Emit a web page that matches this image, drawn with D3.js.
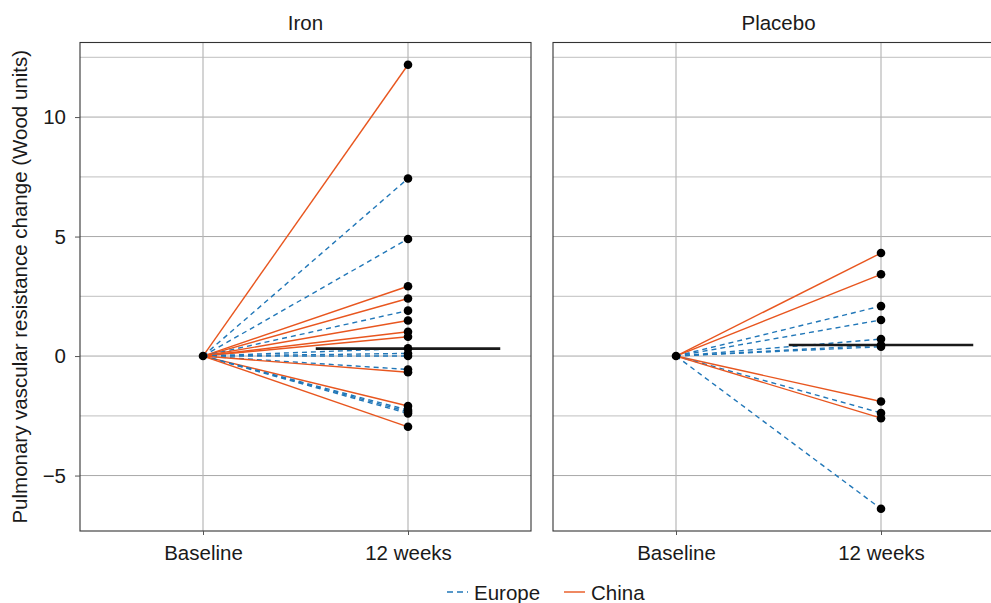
<!DOCTYPE html>
<html>
<head>
<meta charset="utf-8">
<script src="https://cdn.jsdelivr.net/npm/d3@7"></script>
<style>
  body { margin: 0; background: #fff; }
  svg { font-family: "Liberation Sans", Arial, sans-serif; }
</style>
</head>
<body>
<svg id="chart" width="991" height="603"></svg>
<script>
// data
var groups = ["Iron", "Placebo"];
var timepoints = ["Baseline", "12 weeks"];
var regions = ["Europe", "China"];

var ironChange = [12.19, 7.43, 4.9, 2.92, 2.41, 1.9, 1.49, 1.02, 0.81, 0.32, 0.11, 0, -0.56, -0.68, -2.09, -2.26, -2.33, -2.4, -2.96];
var ironRegion = ["China", "Europe", "Europe", "China", "China", "Europe", "China", "China", "China", "Europe", "Europe", "Europe", "Europe", "China", "China", "Europe", "Europe", "Europe", "China"];

var placeboChange = [4.31, 3.42, 2.09, 1.51, 0.71, 0.46, 0.39, -1.9, -2.38, -2.6, -6.39];
var placeboRegion = ["China", "China", "Europe", "Europe", "Europe", "Europe", "Europe", "China", "Europe", "China", "Europe"];

var medianChange = [0.31, 0.46];

var yTicks = [-5, 0, 5, 10];
var gridTicks = [-5, -2.5, 0, 2.5, 5, 7.5, 10, 12.5];

var regionColor = d3.scaleOrdinal().domain(regions).range(["#2177b8", "#e8561f"]);
var regionDash = d3.scaleOrdinal().domain(regions).range(["5,4", null]);

var svg = d3.select("#chart");
var fontSize = 20.5;

var panelW = 451, panelTop = 42.5, panelBottom = 531;
var panelLeft = [80, 553];

var y = d3.scaleLinear()
  .domain([-7.32, 13.12])
  .range([panelBottom, panelTop]);

var x = d3.scalePoint()
  .domain(timepoints)
  .range([0, panelW])
  .padding(0.6);

function rows(values, regs){
  return values.map(function(v, i){ return {value: v, region: regs[i]}; });
}

var panelData = [rows(ironChange, ironRegion), rows(placeboChange, placeboRegion)];

var line = d3.line()
  .x(function(d){ return x(d[0]); })
  .y(function(d){ return y(d[1]); });

groups.forEach(function(name, gi){
  var g = svg.append("g")
    .attr("transform", "translate(" + panelLeft[gi] + ",0)");

  // horizontal grid
  g.append("g")
    .selectAll("line")
    .data(gridTicks)
    .join("line")
    .attr("x1", 0).attr("x2", panelW)
    .attr("y1", function(d){ return y(d); })
    .attr("y2", function(d){ return y(d); })
    .attr("stroke", function(d){ return d % 5 === 0 ? "#a8a8a8" : "#cccccc"; })
    .attr("stroke-width", function(d){ return d % 5 === 0 ? 1 : 1.3; });

  // vertical grid
  g.append("g")
    .selectAll("line")
    .data(timepoints)
    .join("line")
    .attr("x1", function(d){ return x(d); })
    .attr("x2", function(d){ return x(d); })
    .attr("y1", panelTop).attr("y2", panelBottom)
    .attr("stroke", "#b8b8b8")
    .attr("stroke-width", 1.2);

  // spaghetti lines
  g.append("g")
    .selectAll("path")
    .data(panelData[gi])
    .join("path")
    .attr("d", function(d){ return line([[timepoints[0], 0], [timepoints[1], d.value]]); })
    .attr("fill", "none")
    .attr("stroke", function(d){ return regionColor(d.region); })
    .attr("stroke-width", 1.4)
    .attr("stroke-dasharray", function(d){ return regionDash(d.region); });

  // median bar
  var step = x.step();
  g.append("line")
    .attr("x1", x(timepoints[1]) - step * 0.45)
    .attr("x2", x(timepoints[1]) + step * 0.45)
    .attr("y1", y(medianChange[gi]))
    .attr("y2", y(medianChange[gi]))
    .attr("stroke", "#1a1a1a")
    .attr("stroke-width", 2.6);

  // points
  g.append("circle")
    .attr("cx", x(timepoints[0]))
    .attr("cy", y(0))
    .attr("r", 4.3)
    .attr("fill", "#000");

  g.append("g")
    .selectAll("circle")
    .data(panelData[gi])
    .join("circle")
    .attr("cx", x(timepoints[1]))
    .attr("cy", function(d){ return y(d.value); })
    .attr("r", 4.3)
    .attr("fill", "#000");

  // frame
  g.append("rect")
    .attr("x", 0).attr("y", panelTop)
    .attr("width", panelW).attr("height", panelBottom - panelTop)
    .attr("fill", "none")
    .attr("stroke", "#333")
    .attr("stroke-width", 1.1);

  // panel title
  g.append("text")
    .attr("x", panelW / 2)
    .attr("y", 30)
    .attr("text-anchor", "middle")
    .attr("font-size", fontSize)
    .attr("fill", "#1a1a1a")
    .text(name);

  // x axis
  var xAxis = g.append("g")
    .attr("transform", "translate(0," + panelBottom + ")")
    .call(d3.axisBottom(x).tickSize(4).tickPadding(10));
  xAxis.select(".domain").remove();
  xAxis.selectAll(".tick line").attr("stroke", "#555");
  xAxis.selectAll("text")
    .attr("font-size", fontSize)
    .attr("fill", "#1a1a1a")
    .attr("font-family", null);
});

// y axis
var yAxis = svg.append("g")
  .attr("transform", "translate(" + panelLeft[0] + ",0)")
  .call(d3.axisLeft(y)
    .tickValues(yTicks)
    .tickSize(5)
    .tickPadding(9)
    .tickFormat(function(d){ return d < 0 ? "\u2212" + Math.abs(d) : d; }));
yAxis.select(".domain").remove();
yAxis.selectAll(".tick line").attr("stroke", "#555");
yAxis.selectAll("text")
  .attr("font-size", fontSize)
  .attr("fill", "#1a1a1a")
  .attr("font-family", null);

svg.append("text")
  .attr("transform", "translate(27," + ((panelTop + panelBottom) / 2) + ") rotate(-90)")
  .attr("text-anchor", "middle")
  .attr("font-size", fontSize)
  .attr("fill", "#1a1a1a")
  .text("Pulmonary vascular resistance change (Wood units)");

// legend
var legendX = [447, 564];
var legend = svg.append("g")
  .selectAll("g")
  .data(regions)
  .join("g")
  .attr("transform", function(d, i){ return "translate(" + legendX[i] + ",592)"; });

legend.append("line")
  .attr("x1", 0).attr("x2", 21)
  .attr("y1", 0).attr("y2", 0)
  .attr("stroke", function(d){ return regionColor(d); })
  .attr("stroke-width", 1.4)
  .attr("stroke-dasharray", function(d){ return regionDash(d) ? "6,4" : null; });

legend.append("text")
  .attr("x", 27)
  .attr("y", 7.5)
  .attr("font-size", fontSize)
  .attr("fill", "#1a1a1a")
  .text(function(d){ return d; });
</script>
</body>
</html>
